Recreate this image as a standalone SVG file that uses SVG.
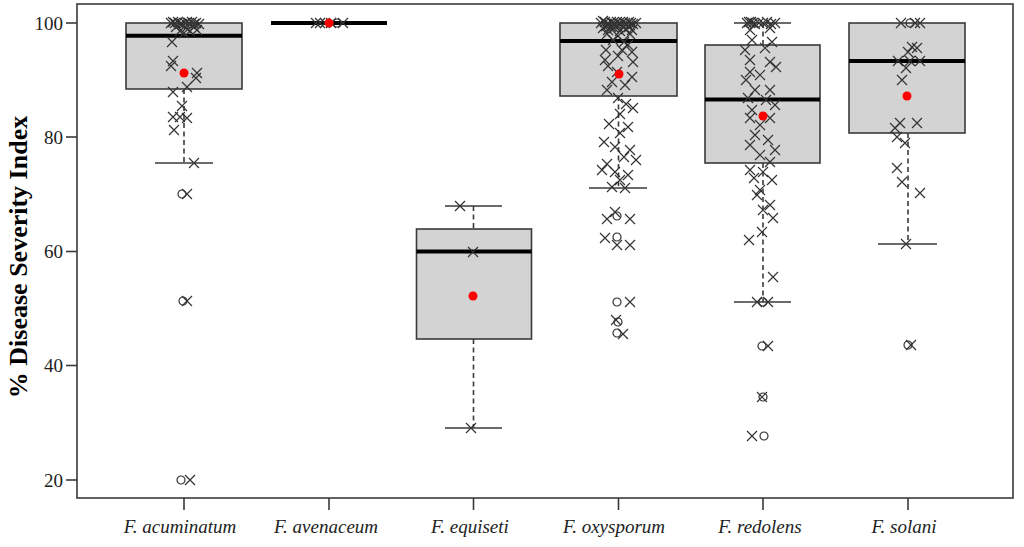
<svg xmlns="http://www.w3.org/2000/svg" xmlns:xlink="http://www.w3.org/1999/xlink" width="1024" height="547" viewBox="0 0 1024 547">
<style>
.frame{fill:none;stroke:#3a3a3a;stroke-width:1.6}
.box{fill:#d3d3d3;stroke:#3a3a3a;stroke-width:1.6}
.med{stroke:#000;stroke-width:4}
.wh{stroke:#3a3a3a;stroke-width:1.6;stroke-dasharray:5,3.5;fill:none}
.cap{stroke:#3a3a3a;stroke-width:1.6}
.tick{stroke:#3a3a3a;stroke-width:1.6}
.pt{fill:none;stroke:#333;stroke-width:1.2}
.mean{fill:#ff0000}
.yl{font-family:"Liberation Serif","Times New Roman",serif;font-size:19px;fill:#222;text-anchor:end}
.xl{font-family:"Liberation Serif","Times New Roman",serif;font-size:19px;font-style:italic;fill:#222;text-anchor:middle}
.title{font-family:"Liberation Serif","Times New Roman",serif;font-size:26px;font-weight:bold;fill:#000;text-anchor:middle}
</style>
<defs>
<path id="x" class="pt" d="M-5,-5L5,5M-5,5L5,-5"/>
<circle id="o" class="pt" r="4"/>
</defs>
<rect width="1024" height="547" fill="#fff"/>

<g id="axes">
<rect class="frame" x="77" y="4" width="936" height="494"/>
<g class="tick">
<line x1="66" y1="23" x2="77" y2="23"/>
<line x1="66" y1="137" x2="77" y2="137"/>
<line x1="66" y1="251.5" x2="77" y2="251.5"/>
<line x1="66" y1="365.5" x2="77" y2="365.5"/>
<line x1="66" y1="480" x2="77" y2="480"/>
<line x1="184" y1="498" x2="184" y2="510"/>
<line x1="329" y1="498" x2="329" y2="510"/>
<line x1="473.5" y1="498" x2="473.5" y2="510"/>
<line x1="618.5" y1="498" x2="618.5" y2="510"/>
<line x1="763" y1="498" x2="763" y2="510"/>
<line x1="908" y1="498" x2="908" y2="510"/>
</g>
<text class="yl" x="63" y="29.5">100</text>
<text class="yl" x="63" y="143.5">80</text>
<text class="yl" x="63" y="258">60</text>
<text class="yl" x="63" y="372">40</text>
<text class="yl" x="63" y="486.5">20</text>
<text class="xl" x="180" y="533">F. acuminatum</text>
<text class="xl" x="326" y="533">F. avenaceum</text>
<text class="xl" x="470" y="533">F. equiseti</text>
<text class="xl" x="614" y="533">F. oxysporum</text>
<text class="xl" x="760" y="533">F. redolens</text>
<text class="xl" x="904" y="533">F. solani</text>
<text class="title" transform="translate(27,257) rotate(-90)">% Disease Severity Index</text>
</g>

<g id="connectors"></g>

<g id="acuminatum">
<line class="wh" x1="184" y1="89" x2="184" y2="163"/>
<line class="cap" x1="155" y1="163" x2="213" y2="163"/>
<rect class="box" x="126" y="23" width="116" height="66"/>
<line class="med" x1="126" y1="35.7" x2="242" y2="35.7"/>
<use xlink:href="#x" x="171" y="23"/><use xlink:href="#x" x="173" y="22"/><use xlink:href="#x" x="175" y="23"/><use xlink:href="#x" x="178" y="22"/><use xlink:href="#x" x="180" y="24"/><use xlink:href="#x" x="182" y="24"/><use xlink:href="#x" x="185" y="23"/><use xlink:href="#x" x="187" y="22"/><use xlink:href="#x" x="189" y="23"/><use xlink:href="#x" x="192" y="22"/><use xlink:href="#x" x="194" y="24"/><use xlink:href="#x" x="196" y="23"/><use xlink:href="#x" x="199" y="24"/>
<use xlink:href="#x" x="176" y="27"/><use xlink:href="#x" x="186" y="28"/><use xlink:href="#x" x="194" y="27"/><use xlink:href="#x" x="180" y="31"/><use xlink:href="#x" x="190" y="31"/><use xlink:href="#x" x="197" y="30"/><use xlink:href="#x" x="184" y="33"/>
<use xlink:href="#x" x="172" y="42"/><use xlink:href="#x" x="173" y="61"/><use xlink:href="#x" x="171" y="66"/><use xlink:href="#x" x="197" y="73"/><use xlink:href="#x" x="196" y="78"/><use xlink:href="#x" x="187" y="87"/><use xlink:href="#x" x="173" y="92"/><use xlink:href="#x" x="182" y="106"/><use xlink:href="#x" x="180" y="117"/><use xlink:href="#x" x="173" y="117"/><use xlink:href="#x" x="187" y="118"/><use xlink:href="#x" x="174" y="130"/><use xlink:href="#x" x="194" y="163"/>
<use xlink:href="#o" x="182" y="194"/><use xlink:href="#x" x="187" y="194"/>
<use xlink:href="#o" x="183" y="301"/><use xlink:href="#x" x="187" y="301"/>
<use xlink:href="#o" x="181" y="480"/><use xlink:href="#x" x="190" y="480"/>
<circle class="mean" cx="184" cy="73" r="4.5"/>
</g>

<g id="avenaceum">
<line class="cap" x1="300" y1="23" x2="358" y2="23"/>
<line class="med" x1="271" y1="23" x2="387" y2="23"/>
<use xlink:href="#x" x="316" y="23"/><use xlink:href="#x" x="320" y="23"/><use xlink:href="#x" x="325" y="23"/><use xlink:href="#x" x="331" y="23"/><use xlink:href="#x" x="343" y="23"/><use xlink:href="#o" x="337" y="23"/>
<circle class="mean" cx="329" cy="23" r="4.5"/>
</g>

<g id="equiseti">
<line class="wh" x1="473.5" y1="206" x2="473.5" y2="229"/>
<line class="wh" x1="473.5" y1="339" x2="473.5" y2="428"/>
<line class="cap" x1="445" y1="206" x2="502" y2="206"/>
<line class="cap" x1="445" y1="428" x2="502" y2="428"/>
<rect class="box" x="416.5" y="229" width="115" height="110"/>
<line class="med" x1="416.5" y1="251.5" x2="531.5" y2="251.5"/>
<use xlink:href="#x" x="460" y="206"/><use xlink:href="#x" x="473" y="252"/><use xlink:href="#x" x="471" y="428"/>
<circle class="mean" cx="473" cy="296" r="4.5"/>
</g>

<g id="oxysporum">
<line class="wh" x1="618.5" y1="96" x2="618.5" y2="188"/>
<line class="cap" x1="589" y1="188" x2="647" y2="188"/>
<rect class="box" x="560" y="23" width="117" height="73"/>
<line class="med" x1="560" y1="41" x2="677" y2="41"/>
<use xlink:href="#x" x="601" y="23"/><use xlink:href="#x" x="603" y="21"/><use xlink:href="#x" x="605" y="22"/><use xlink:href="#x" x="607" y="24"/><use xlink:href="#x" x="609" y="24"/><use xlink:href="#x" x="611" y="22"/><use xlink:href="#x" x="613" y="23"/><use xlink:href="#x" x="615" y="24"/><use xlink:href="#x" x="617" y="22"/><use xlink:href="#x" x="619" y="23"/><use xlink:href="#x" x="621" y="24"/><use xlink:href="#x" x="623" y="22"/><use xlink:href="#x" x="625" y="23"/><use xlink:href="#x" x="627" y="24"/><use xlink:href="#x" x="629" y="22"/><use xlink:href="#x" x="631" y="23"/><use xlink:href="#x" x="633" y="24"/><use xlink:href="#x" x="636" y="23"/>
<use xlink:href="#x" x="603" y="28"/><use xlink:href="#x" x="606" y="26"/><use xlink:href="#x" x="608" y="30"/><use xlink:href="#x" x="611" y="27"/><use xlink:href="#x" x="614" y="28"/><use xlink:href="#x" x="617" y="26"/><use xlink:href="#x" x="620" y="31"/><use xlink:href="#x" x="623" y="27"/><use xlink:href="#x" x="626" y="29"/><use xlink:href="#x" x="629" y="27"/><use xlink:href="#x" x="632" y="30"/>
<use xlink:href="#x" x="607" y="34"/><use xlink:href="#x" x="618" y="36"/><use xlink:href="#x" x="630" y="34"/><use xlink:href="#x" x="613" y="40"/><use xlink:href="#x" x="624" y="42"/><use xlink:href="#x" x="628" y="45"/><use xlink:href="#x" x="606" y="50"/><use xlink:href="#x" x="622" y="50"/><use xlink:href="#x" x="632" y="52"/><use xlink:href="#x" x="605" y="60"/><use xlink:href="#x" x="618" y="56"/><use xlink:href="#x" x="633" y="62"/><use xlink:href="#x" x="608" y="66"/><use xlink:href="#x" x="617" y="72"/><use xlink:href="#x" x="632" y="77"/><use xlink:href="#x" x="612" y="82"/><use xlink:href="#x" x="625" y="85"/><use xlink:href="#x" x="607" y="90"/><use xlink:href="#x" x="618" y="98"/><use xlink:href="#x" x="626" y="104"/><use xlink:href="#x" x="633" y="108"/><use xlink:href="#x" x="620" y="114"/><use xlink:href="#x" x="609" y="124"/><use xlink:href="#x" x="628" y="127"/><use xlink:href="#x" x="620" y="133"/><use xlink:href="#x" x="604" y="142"/><use xlink:href="#x" x="615" y="147"/><use xlink:href="#x" x="630" y="150"/><use xlink:href="#x" x="624" y="157"/><use xlink:href="#x" x="636" y="160"/><use xlink:href="#x" x="607" y="164"/><use xlink:href="#x" x="602" y="170"/><use xlink:href="#x" x="615" y="172"/><use xlink:href="#x" x="628" y="175"/><use xlink:href="#x" x="620" y="180"/><use xlink:href="#x" x="612" y="187"/><use xlink:href="#x" x="625" y="188"/>
<use xlink:href="#x" x="607" y="219"/><use xlink:href="#x" x="630" y="219"/><use xlink:href="#x" x="615" y="212"/><use xlink:href="#o" x="617" y="216"/>
<use xlink:href="#x" x="605" y="238"/><use xlink:href="#x" x="617" y="245"/><use xlink:href="#x" x="630" y="245"/><use xlink:href="#o" x="617" y="237"/>
<use xlink:href="#o" x="617" y="302"/><use xlink:href="#x" x="630" y="302"/>
<use xlink:href="#x" x="616" y="320"/><use xlink:href="#o" x="618" y="322"/>
<use xlink:href="#o" x="617" y="333"/><use xlink:href="#x" x="623" y="334"/>
<circle class="mean" cx="619" cy="74" r="4.5"/>
</g>

<g id="redolens">
<line class="wh" x1="763" y1="23" x2="763" y2="45"/>
<line class="wh" x1="763" y1="163" x2="763" y2="302"/>
<line class="cap" x1="734" y1="23" x2="791" y2="23"/>
<line class="cap" x1="734" y1="302" x2="791" y2="302"/>
<rect class="box" x="705" y="45" width="115" height="118"/>
<line class="med" x1="705" y1="99.5" x2="820" y2="99.5"/>
<use xlink:href="#x" x="747" y="23"/><use xlink:href="#x" x="749" y="22"/><use xlink:href="#x" x="751" y="22"/><use xlink:href="#x" x="753" y="23"/><use xlink:href="#x" x="755" y="24"/><use xlink:href="#x" x="759" y="23"/><use xlink:href="#x" x="763" y="23"/><use xlink:href="#x" x="767" y="22"/><use xlink:href="#x" x="771" y="24"/><use xlink:href="#x" x="775" y="23"/>
<use xlink:href="#x" x="750" y="30"/><use xlink:href="#x" x="770" y="28"/><use xlink:href="#x" x="752" y="40"/><use xlink:href="#x" x="772" y="42"/><use xlink:href="#x" x="745" y="50"/><use xlink:href="#x" x="765" y="48"/><use xlink:href="#x" x="750" y="60"/><use xlink:href="#x" x="770" y="62"/><use xlink:href="#x" x="776" y="67"/><use xlink:href="#x" x="750" y="72"/><use xlink:href="#x" x="760" y="75"/><use xlink:href="#x" x="746" y="80"/><use xlink:href="#x" x="770" y="90"/><use xlink:href="#x" x="755" y="90"/><use xlink:href="#x" x="748" y="98"/><use xlink:href="#x" x="766" y="100"/><use xlink:href="#x" x="775" y="105"/><use xlink:href="#x" x="752" y="110"/><use xlink:href="#x" x="750" y="118"/><use xlink:href="#x" x="770" y="118"/><use xlink:href="#x" x="760" y="125"/><use xlink:href="#x" x="755" y="135"/><use xlink:href="#x" x="768" y="140"/><use xlink:href="#x" x="750" y="145"/><use xlink:href="#x" x="775" y="150"/><use xlink:href="#x" x="760" y="155"/><use xlink:href="#x" x="770" y="162"/><use xlink:href="#x" x="750" y="170"/><use xlink:href="#x" x="763" y="172"/><use xlink:href="#x" x="754" y="178"/><use xlink:href="#x" x="772" y="180"/><use xlink:href="#x" x="760" y="190"/><use xlink:href="#x" x="757" y="195"/><use xlink:href="#x" x="770" y="205"/><use xlink:href="#x" x="763" y="210"/><use xlink:href="#x" x="773" y="218"/><use xlink:href="#x" x="762" y="232"/><use xlink:href="#x" x="749" y="240"/><use xlink:href="#x" x="773" y="277"/>
<use xlink:href="#x" x="757" y="302"/><use xlink:href="#x" x="768" y="302"/><use xlink:href="#o" x="763" y="302"/>
<use xlink:href="#o" x="762" y="346"/><use xlink:href="#x" x="768" y="346"/>
<use xlink:href="#o" x="763" y="397"/><use xlink:href="#x" x="762" y="397"/>
<use xlink:href="#x" x="752" y="436"/><use xlink:href="#o" x="764" y="436"/>
<circle class="mean" cx="763" cy="116" r="4.5"/>
</g>

<g id="solani">
<line class="wh" x1="908" y1="133" x2="908" y2="244"/>
<line class="cap" x1="878" y1="244" x2="937" y2="244"/>
<rect class="box" x="849" y="23" width="116" height="110"/>
<line class="med" x1="849" y1="61" x2="965" y2="61"/>
<use xlink:href="#x" x="901" y="23"/><use xlink:href="#o" x="910" y="23"/><use xlink:href="#x" x="915" y="23"/><use xlink:href="#x" x="920" y="23"/>
<use xlink:href="#x" x="912" y="47"/><use xlink:href="#x" x="917" y="48"/><use xlink:href="#x" x="908" y="52"/><use xlink:href="#x" x="898" y="61"/><use xlink:href="#x" x="910" y="61"/><use xlink:href="#x" x="920" y="61"/><use xlink:href="#x" x="906" y="68"/><use xlink:href="#x" x="902" y="80"/><use xlink:href="#x" x="900" y="123"/><use xlink:href="#x" x="917" y="123"/><use xlink:href="#x" x="895" y="128"/><use xlink:href="#x" x="897" y="137"/><use xlink:href="#x" x="905" y="143"/><use xlink:href="#x" x="897" y="168"/><use xlink:href="#x" x="902" y="182"/><use xlink:href="#x" x="920" y="193"/><use xlink:href="#x" x="906" y="244"/>
<use xlink:href="#o" x="908" y="345"/><use xlink:href="#x" x="911" y="345"/>
<circle class="mean" cx="907" cy="96" r="4.5"/>
</g>
</svg>
